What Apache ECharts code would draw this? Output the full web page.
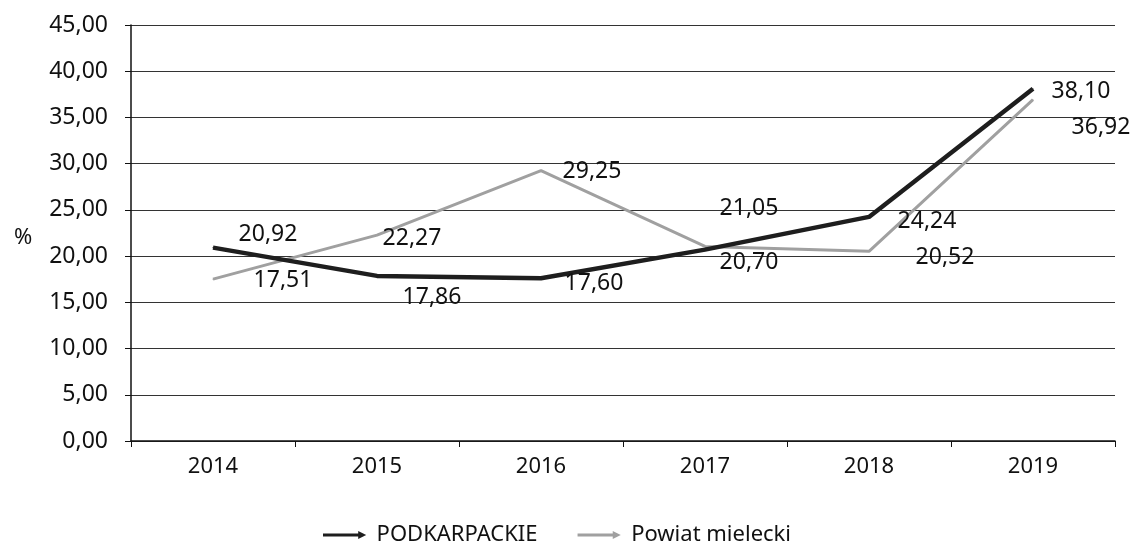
<!DOCTYPE html>
<html>
<head>
<meta charset="utf-8">
<script src="https://cdn.jsdelivr.net/npm/echarts@6/dist/echarts.min.js"></script>
<style>
  html, body { margin: 0; padding: 0; background: #fff; }
  #chart { width: 1134px; height: 543px; }
</style>
</head>
<body>
<div id="chart"></div>
<script>
const years = ["2014", "2015", "2016", "2017", "2018", "2019"];
const podkarpackie = [20.92, 17.86, 17.60, 20.70, 24.24, 38.10];
const powiatMielecki = [17.51, 22.27, 29.25, 21.05, 20.52, 36.92];
const yTicks = [0, 5, 10, 15, 20, 25, 30, 35, 40, 45];

// label offsets like in the original (excel places them by hand)
const podkOffsets = [[55, -13], [55, 22], [53, 5], [44, 13], [58, 5], [48, 3]];
const powOffsets = [[70, 1], [35, 3], [51, 1], [44, -38], [76, 6], [68, 28]];

const fmt = (v) => v.toFixed(2).replace(".", ",");
const font = "'Noto Sans', 'Open Sans', sans-serif";
const arrowIcon = "path://M0,3 L44,3 L44,0 L54,5 L44,10 L44,7 L0,7 Z";

function withLabels(values, offsets) {
  return values.map((v, i) => ({
    value: v,
    label: { offset: offsets[i] },
  }));
}

const chart = echarts.init(document.getElementById("chart"));
chart.setOption({
  animation: false,
  backgroundColor: "#fff",
  title: {
    text: "%",
    left: 9,
    top: 222,
    textStyle: { fontFamily: font, fontSize: 22, fontWeight: "normal", color: "#111" },
  },
  grid: { left: 131, right: 19, top: 25, bottom: 102 },
  legend: {
    top: 519,
    left: 318,
    itemWidth: 54,
    itemHeight: 8,
    itemGap: 40,
    icon: arrowIcon,
    textStyle: { fontFamily: font, fontSize: 22, color: "#111" },
    data: ["PODKARPACKIE", "Powiat mielecki"],
  },
  xAxis: {
    type: "category",
    data: years,
    boundaryGap: true,
    axisLine: { lineStyle: { color: "#111", width: 1.5 } },
    axisTick: { show: true, length: 6, lineStyle: { color: "#111" } },
    axisLabel: { margin: 15, fontFamily: font, fontSize: 22, color: "#111" },
  },
  yAxis: {
    type: "value",
    min: yTicks[0],
    max: yTicks[yTicks.length - 1],
    interval: 5,
    axisLine: { show: true, lineStyle: { color: "#111", width: 1.5 } },
    axisTick: { show: true, length: 6, lineStyle: { color: "#111" } },
    axisLabel: {
      margin: 23,
      fontFamily: font,
      fontSize: 23,
      color: "#111",
      formatter: (v) => fmt(v),
    },
    splitLine: { lineStyle: { color: "#333", width: 1 } },
  },
  series: [
    {
      name: "PODKARPACKIE",
      type: "line",
      data: withLabels(podkarpackie, podkOffsets),
      symbol: "circle",
      symbolSize: 1,
      color: "#1e1e1e",
      lineStyle: { width: 4.5, color: "#1e1e1e" },
      label: {
        show: true,
        position: "inside",
        fontFamily: font,
        fontSize: 23,
        color: "#111",
        formatter: (p) => fmt(p.value),
      },
      z: 3,
    },
    {
      name: "Powiat mielecki",
      type: "line",
      data: withLabels(powiatMielecki, powOffsets),
      symbol: "circle",
      symbolSize: 1,
      color: "#a0a0a0",
      lineStyle: { width: 3, color: "#a0a0a0" },
      label: {
        show: true,
        position: "inside",
        fontFamily: font,
        fontSize: 23,
        color: "#111",
        formatter: (p) => fmt(p.value),
      },
      z: 2,
    },
  ],
});
</script>
</body>
</html>
